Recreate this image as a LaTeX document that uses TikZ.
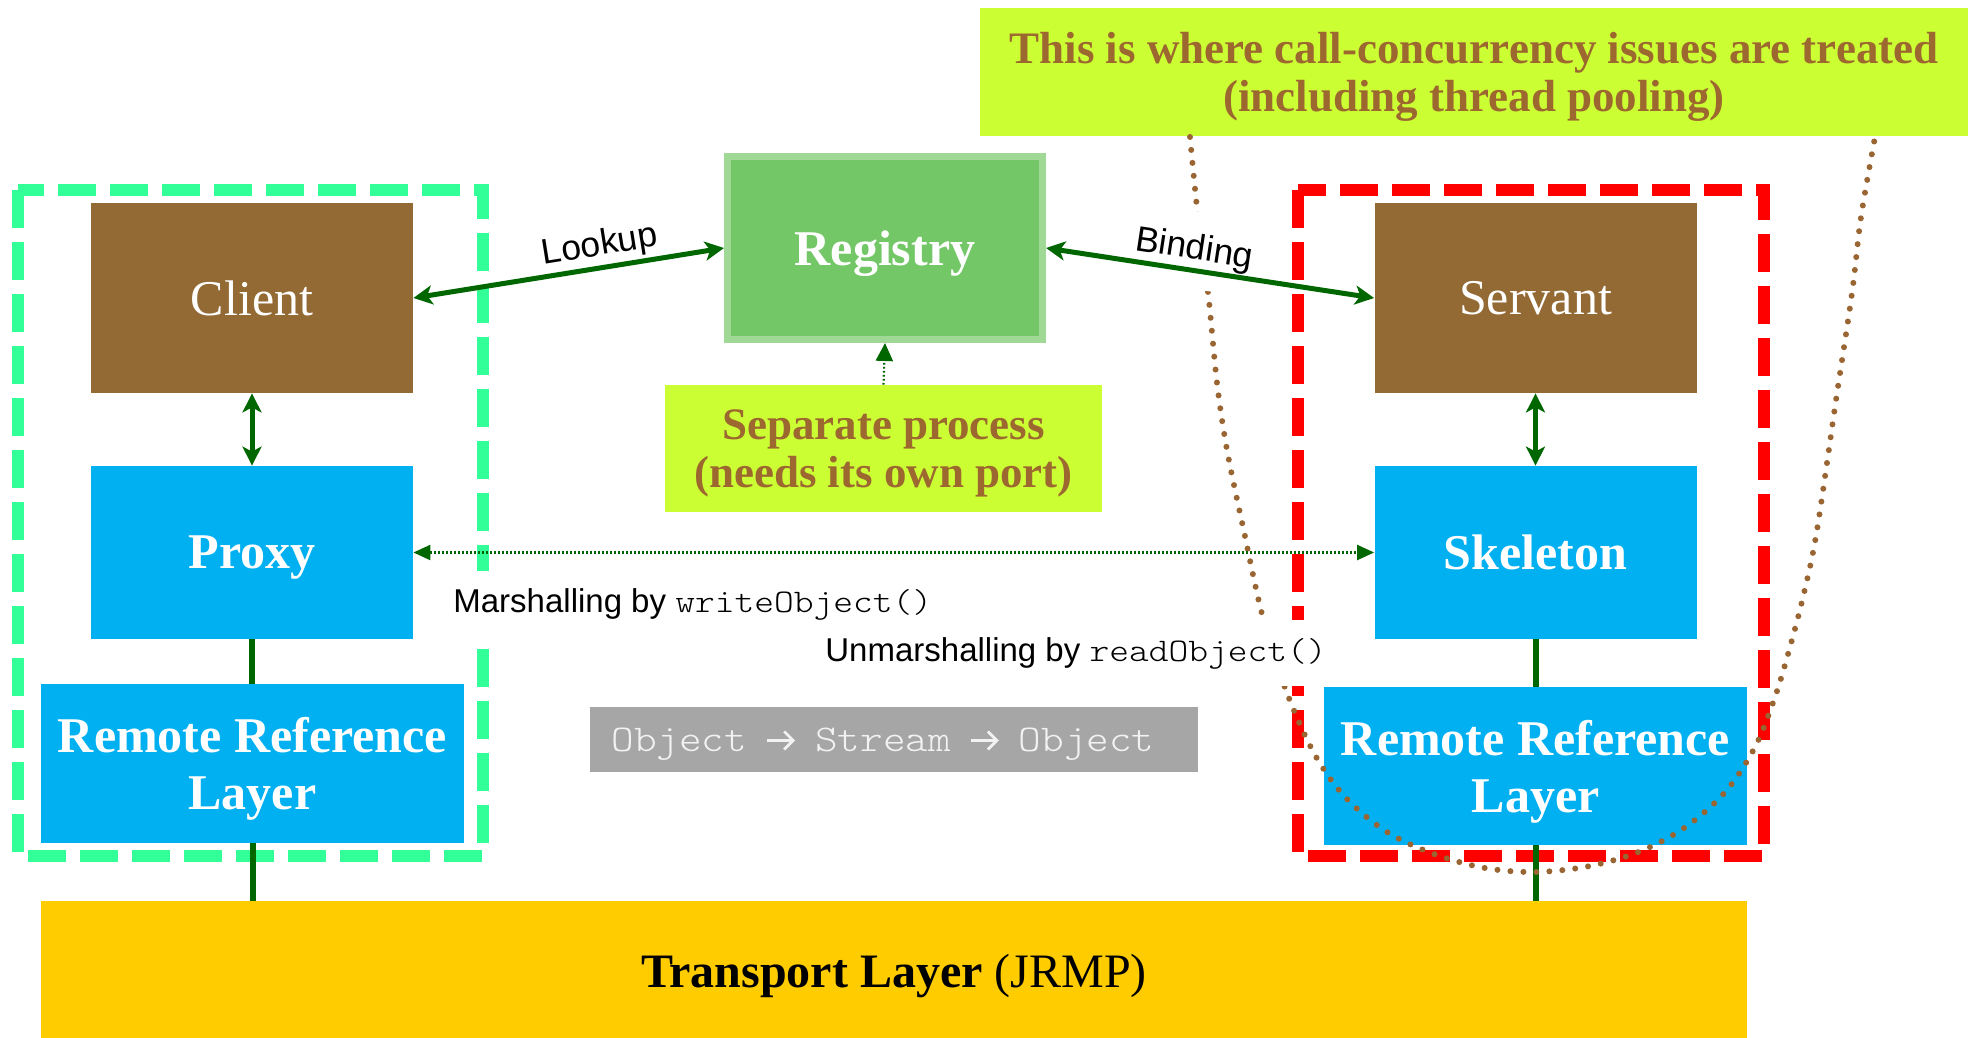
\documentclass[tikz,border=0pt]{standalone}
\usepackage{fontspec}
\setmainfont{Liberation Serif}
\setsansfont{Liberation Sans}
\setmonofont{Liberation Mono}
\newfontfamily\cour[FakeStretch=1.14]{lmmonolt10-regular.otf}
\usetikzlibrary{arrows.meta,calc}
\definecolor{cbrown}{RGB}{147,106,52}
\definecolor{cblue}{RGB}{0,176,240}
\definecolor{cregfill}{RGB}{116,199,103}
\definecolor{cregborder}{RGB}{160,216,150}
\definecolor{clime}{RGB}{204,255,51}
\definecolor{ctext}{RGB}{156,104,48}
\definecolor{cframegreen}{RGB}{51,255,153}
\definecolor{cdark}{RGB}{0,102,0}
\definecolor{cyellow}{RGB}{255,204,0}
\definecolor{cgray}{RGB}{166,166,166}
\definecolor{cgraytext}{RGB}{242,242,242}
\definecolor{cdot}{RGB}{153,102,51}
\newcommand{\streamarrow}{\makebox[0.6em][c]{\tikz[baseline=-5.4pt]\draw[cgraytext, line width=1.4pt,
  -{Straight Barb[length=4.5pt,width=9pt,line width=1.4pt]}] (0pt,0pt) -- (14pt,0pt);}}
\tikzset{
  stdbox/.style={inner sep=0pt, text depth=0pt, align=center, text=white,
    font=\fontsize{25}{28.5}\selectfont},
  brownbox/.style={stdbox, fill=cbrown, minimum width=161pt, minimum height=95pt},
  bluebox/.style={stdbox, fill=cblue, font=\bfseries\fontsize{25}{28.5}\selectfont},
  regbox/.style={stdbox, fill=cregfill, draw=cregborder, line width=3.5pt,
    minimum width=157.5pt, minimum height=91.5pt, font=\bfseries\fontsize{25}{28.5}\selectfont},
  callout/.style={fill=clime, text=ctext, align=center, inner sep=0pt, text depth=0pt,
    font=\bfseries\fontsize{22.5}{24.3}\selectfont},
  frame/.style={line width=6.25pt, dash pattern=on 19pt off 7pt},
  conn/.style={draw=cdark, line width=3pt},
  bigarrow/.style={draw=cdark, line width=2.5pt,
    {Stealth[length=9.5pt,width=9.5pt,inset=2.5pt]}-{Stealth[length=9.5pt,width=9.5pt,inset=2.5pt]}},
  dotarrow/.style={draw=cdark, line width=1.1pt, dash pattern=on 0.9pt off 1.1pt},
  lbl/.style={font=\sffamily\fontsize{16.5}{18}\selectfont, inner xsep=8pt, inner ysep=8.5pt, fill=white},
  arrlbl/.style={lbl, font=\sffamily\fontsize{17.75}{19}\selectfont},
  curve/.style={draw=cdot, line width=3pt, line cap=round, dash pattern=on 0pt off 6.5pt}
}
\begin{document}
\begin{tikzpicture}[x=0.5pt,y=-0.5pt]
\useasboundingbox (0,0) rectangle (1975,1038);
% boxes
\node[callout, minimum width=494pt, minimum height=64pt] (note) at (1474,72)
  {This is where call-concurrency issues are treated\\(including thread pooling)};
\node[regbox] (registry) at (885,248) {Registry};
\node[callout, minimum width=218.5pt, minimum height=63.5pt] (sep) at (883.5,448.5)
  {Separate process\\(needs its own port)};
\node[brownbox] (client) at (252,298) {Client};
\node[brownbox] (servant) at (1535.5,298) {Servant};
\node[bluebox, minimum width=161pt, minimum height=86.5pt] (proxy) at (252,552.5) {Proxy};
\node[bluebox, minimum width=161pt, minimum height=86.5pt] (skeleton) at (1535.5,552.5) {Skeleton};
\node[bluebox, minimum width=211.5pt, minimum height=79.5pt] (rrlL) at (252.5,763.5) {Remote Reference\\Layer};
\node[bluebox, minimum width=211.5pt, minimum height=79pt] (rrlR) at (1535.5,766) {Remote Reference\\Layer};
\node[fill=cgray, text=cgraytext, minimum width=304pt, minimum height=32.5pt, inner sep=0pt,
  text depth=0pt, font=\cour\fontsize{18.9}{20}\selectfont] (stream) at (894,739.5)
  {Object \streamarrow{} Stream \streamarrow{} Object\kern11pt\null};
\node[fill=cyellow, minimum width=853pt, minimum height=70pt, inner sep=0pt, text depth=0pt,
  font=\fontsize{24}{26}\selectfont] (transport) at (894,971) {\textbf{Transport Layer} (JRMP)};
% dashed frames
\draw[frame, cframegreen] (18,190) rectangle (483,856);
\draw[frame, red] (1298,190) rectangle (1764,856);
% vertical connectors
\draw[conn] (proxy.south) -- (proxy.south |- rrlL.north);
\draw[conn] (rrlL.south) -- (rrlL.south |- transport.north);
\draw[conn] (skeleton.south) -- (skeleton.south |- rrlR.north);
\draw[conn] (rrlR.south) -- (rrlR.south |- transport.north);
% dotted curve
\draw[curve] plot[smooth, tension=0.55] coordinates {(1190,137) (1198,217) (1208,292) (1217,383)
  (1227,450) (1243,527) (1263,618) (1287,693) (1315,755) (1346,798) (1387,832) (1434,854)
  (1485,868) (1536,872) (1590,866) (1641,851) (1687,826) (1726,791) (1755,747) (1775,697)
  (1790,647) (1804,593) (1817,530) (1836,400) (1852,293) (1861,217) (1875,137)};
% dotted arrows
\draw[dotarrow, -{Triangle[length=9pt,width=8.5pt]}] (sep.north) -- (registry.south);
\draw[dotarrow, {Triangle[length=8.5pt,width=7.5pt]}-{Triangle[length=8.5pt,width=7.5pt]}]
  (proxy.east) -- (skeleton.west);
% labels
\node[lbl, anchor=west] (marsh) at (437,604) {Marshalling by {\cour writeObject()}};
\node[lbl, anchor=west] (unmarsh) at (809,653) {Unmarshalling by {\cour readObject()}};
\node[arrlbl, rotate=9.1] (lookup) at (600,246) {Lookup};
\node[arrlbl, rotate=-8.7, inner ysep=11pt] (binding) at (1194,250) {Binding};
% arrows
\draw[bigarrow] (client.east) -- (registry.west);
\draw[bigarrow] (registry.east) -- (servant.west);
\draw[bigarrow] (client.south) -- (proxy.north);
\draw[bigarrow] (servant.south) -- (skeleton.north);
\end{tikzpicture}
\end{document}
